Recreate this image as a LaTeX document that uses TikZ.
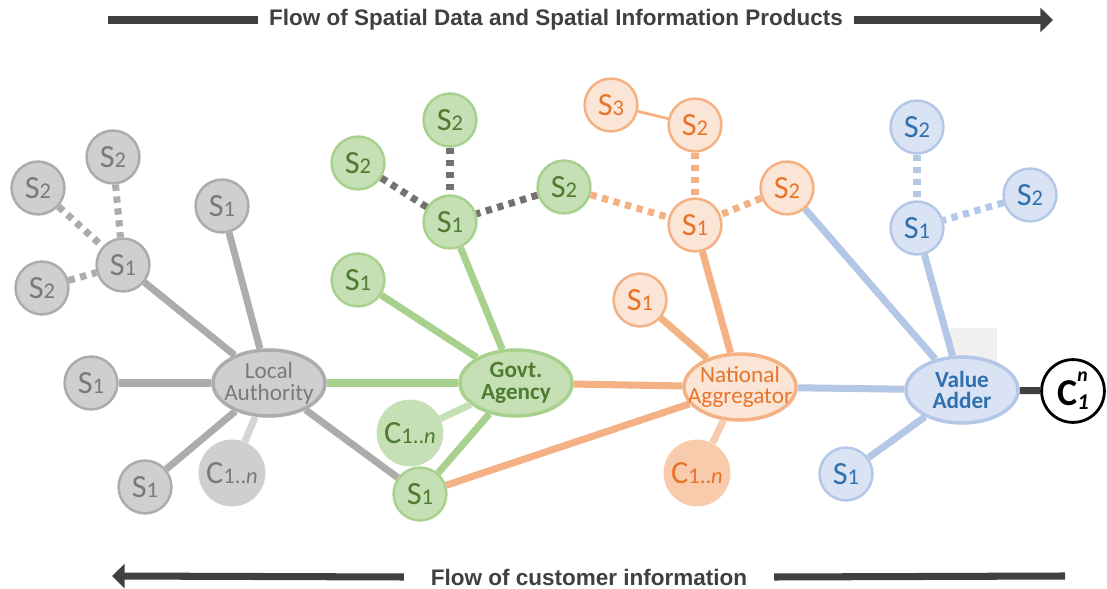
\documentclass[tikz,border=0pt]{standalone}
\usepackage{fontspec}
\setmainfont{Carlito}
\newfontfamily\flowfont{Liberation Sans}
\usepackage{tikz}
\usetikzlibrary{arrows.meta,positioning,calc,shapes}

\definecolor{gryfill}{HTML}{D0CECE}
\definecolor{gryline}{HTML}{AEABAB}
\definecolor{grytext}{HTML}{7A7A7A}
\definecolor{grnfill}{HTML}{C5E0B4}
\definecolor{grnline}{HTML}{A9D18E}
\definecolor{grntext}{HTML}{4E7A31}
\definecolor{orgfill}{HTML}{FBE5D6}
\definecolor{orgline}{HTML}{F4B183}
\definecolor{orgtext}{HTML}{E8742A}
\definecolor{orgcust}{HTML}{F8CBAD}
\definecolor{blufill}{HTML}{DAE3F3}
\definecolor{bluline}{HTML}{B4C7E7}
\definecolor{blutext}{HTML}{2E70B0}
\definecolor{dotgry}{HTML}{767171}
\definecolor{flowgry}{HTML}{404040}

\newcommand{\sx}[1]{S{\fontsize{16}{16}\selectfont #1}}
\newcommand{\cust}{C{\fontsize{16}{16}\selectfont 1..\textit{n}}}

\begin{document}
\begin{tikzpicture}[x=0.025cm,y=-0.025cm,
  snode/.style={circle,line width=1.8pt,minimum size=1.32cm,inner sep=0pt,font=\fontsize{23}{24}\selectfont},
  gs/.style={snode,draw=gryline,fill=gryfill,text=grytext},
  ns/.style={snode,draw=grnline,fill=grnfill,text=grntext},
  os/.style={snode,draw=orgline,fill=orgfill,text=orgtext},
  bs/.style={snode,draw=bluline,fill=blufill,text=blutext},
  hub/.style={ellipse,line width=2.5pt,minimum width=2.8cm,minimum height=1.65cm,inner sep=0pt},
  hubtext/.style={align=center,inner sep=0pt,font=\fontsize{16.5}{15.5}\selectfont},
  cnode/.style={circle,minimum size=1.67cm,inner sep=0pt,font=\fontsize{23}{24}\selectfont},
  link/.style={line width=5pt},
  dots/.style={line width=5pt,dash pattern=on 4.5pt off 4pt},
  flow/.style={line width=5pt,draw=flowgry},
  flowtext/.style={font=\flowfont\bfseries\fontsize{16}{16}\selectfont,text=flowgry}]
\useasboundingbox (0,0) rectangle (1107,589);

% Flow arrows
\node[flowtext,inner xsep=8pt] (fwd) at (556,20) {Flow of Spatial Data and Spatial Information Products};
\coordinate (fwdL) at (108,20);
\coordinate (fwdR) at (1053,20);
\draw[flow] (fwdL) -- (fwd.west);
\draw[flow,-{Triangle[length=9pt,width=17pt]}] (fwd.east) -- (fwdR);

\node[flowtext,inner xsep=19pt] (bck) at (589,577) {Flow of customer information};
\coordinate (bckL) at (112,576);
\coordinate (bckR) at (1065,576);
\draw[flow,-{Triangle[length=9pt,width=17pt]}] (bck.west) -- (bckL);
\draw[flow] (bck.east) -- (bckR);

% Local authority
\node[hub,draw=gryline,fill=gryfill] (la) at (269,383) {};
\node[hubtext,text=grytext] (latxt) at (la) {Local\\Authority};
\foreach \nm/\x/\y/\k in {la1/123/265/1, la2/222/206/1, la3/91/383/1, la4/145/487/1,
    la5/113/157/2, la6/38/188/2, la7/42/288/2}
  \node[gs] (\nm) at (\x,\y) {\sx{\k}};
\node[cnode,fill=gryfill,text=grytext] (lac) at (232,473) {\cust};
\foreach \a in {la1,la2,la3,la4}
  \draw[link,gryline] (\a) -- (la);
\draw[link,gryline!50] (lac) -- (la);
\foreach \a in {la5,la6,la7}
  \draw[dots,gryline] (\a) -- (la1);

% Govt. agency
\node[hub,draw=grnline,fill=grnfill] (ga) at (516,383) {};
\node[hubtext,text=grntext,font=\fontsize{16.5}{15.5}\selectfont\bfseries] (gatxt) at (ga) {Govt.\\Agency};
\foreach \nm/\x/\y/\k in {ga1/450/222/1, ga2/358/280/1, ga3/420/494/1,
    ga4/450/120/2, ga5/358/163/2, ga6/564/187/2}
  \node[ns] (\nm) at (\x,\y) {\sx{\k}};
\node[cnode,fill=grnfill,text=grntext] (gac) at (410,433) {\cust};
\draw[link,grnline] (la) -- (ga);
\draw[link,gryline] (la) -- (ga3);
\foreach \a in {ga1,ga2,ga3}
  \draw[link,grnline] (\a) -- (ga);
\draw[link,grnfill] (gac) -- (ga);
\foreach \a in {ga4,ga5,ga6}
  \draw[dots,dotgry] (\a) -- (ga1);

% National aggregator
\node[hub,draw=orgline,fill=orgfill] (na) at (740,387) {};
\node[hubtext,text=orgtext] (natxt) at (na) {National\\Aggregator};
\foreach \nm/\x/\y/\k in {na1/695/225/1, na2/640/300/1, na3/695/125/2,
    na4/787/188/2, na5/611/105/3}
  \node[os] (\nm) at (\x,\y) {\sx{\k}};
\node[cnode,fill=orgcust,text=orgtext] (nac) at (697,473) {\cust};
\draw[link,orgline] (ga) -- (na);
\draw[link,orgline] (ga3) -- (na);
\foreach \a in {na1,na2}
  \draw[link,orgline] (\a) -- (na);
\draw[link,orgcust] (nac) -- (na);
\draw[line width=2pt,orgline] (na5) -- (na3);
\foreach \a in {na3,na4,ga6}
  \draw[dots,orgline] (\a) -- (na1);

% Value adder
\fill[gray!12] (950,328) rectangle (997,362);
\node[hub,draw=bluline,fill=blufill] (va) at (962,390) {};
\node[hubtext,text=blutext,font=\fontsize{16.5}{15.5}\selectfont\bfseries] (vatxt) at (va) {Value\\Adder};
\foreach \nm/\x/\y/\k in {va1/917/228/1, va2/846/474/1, va3/917/127/2, va4/1030/195/2}
  \node[bs] (\nm) at (\x,\y) {\sx{\k}};
\foreach \a in {na,na4,va1,va2}
  \draw[link,bluline] (\a) -- (va);
\foreach \a in {va3,va4}
  \draw[dots,bluline] (\a) -- (va1);

% Customers
\node[circle,draw=black,line width=2pt,fill=white,minimum size=1.57cm,inner sep=0pt,font=\fontsize{27}{27}\selectfont\bfseries] (cn) at (1073,391)
  {C\rlap{\raisebox{0.62em}{\fontsize{14}{14}\selectfont\itshape n}}\raisebox{-0.12em}{\fontsize{16}{16}\selectfont\itshape 1}};
\draw[link,flowgry] (va) -- (cn);
\end{tikzpicture}
\end{document}
